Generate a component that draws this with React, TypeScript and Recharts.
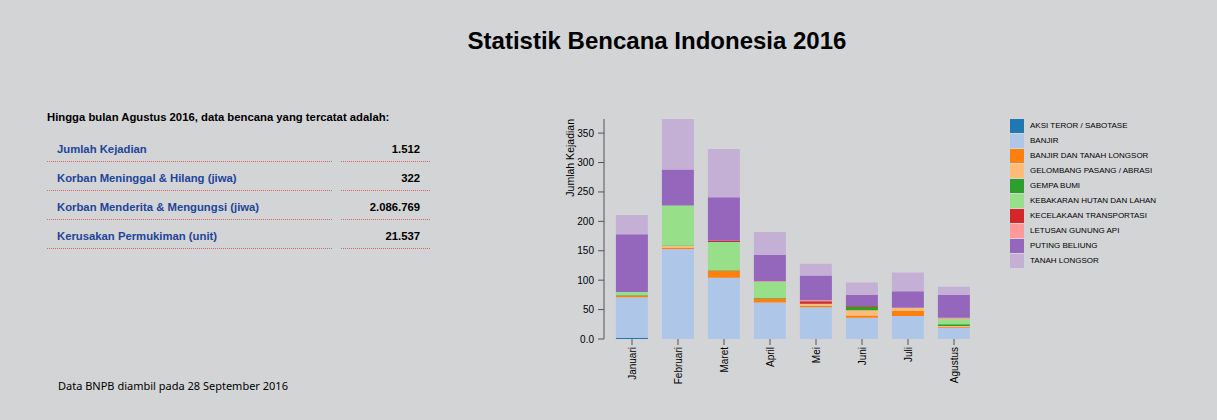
import { BarChart, Bar, XAxis, YAxis } from "recharts";

const months = ["Januari", "Februari", "Maret", "April", "Mei", "Juni", "Juli", "Agustus"];

const jenisBencana = [
  "AKSI TEROR / SABOTASE",
  "BANJIR",
  "BANJIR DAN TANAH LONGSOR",
  "GELOMBANG PASANG / ABRASI",
  "GEMPA BUMI",
  "KEBAKARAN HUTAN DAN LAHAN",
  "KECELAKAAN TRANSPORTASI",
  "LETUSAN GUNUNG API",
  "PUTING BELIUNG",
  "TANAH LONGSOR",
];

const warna = [
  "#1f77b4", "#aec7e8", "#ff7f0e", "#ffbb78", "#2ca02c",
  "#98df8a", "#d62728", "#ff9896", "#9467bd", "#c5b0d5",
];

// jumlah kejadian per bulan, urutan sama dengan jenisBencana
const aksiTeror = [2, 0, 0, 0, 0, 0, 0, 0];
const banjir = [69, 153, 104, 62, 54, 36, 39, 19];
const banjirLongsor = [2, 2, 12, 7, 2, 4, 9, 2];
const gelombang = [1, 3, 0, 0, 3, 9, 5, 1];
const gempa = [1, 1, 1, 1, 0, 6, 0, 3];
const kebakaran = [5, 68, 48, 27, 1, 0, 0, 9];
const kecelakaan = [0, 0, 2, 0, 4, 1, 0, 0];
const letusan = [0, 0, 0, 1, 2, 0, 0, 2];
const putingBeliung = [98, 61, 74, 45, 42, 19, 28, 39];
const tanahLongsor = [33, 86, 82, 39, 20, 21, 32, 14];

const yTicks = [0, 50, 100, 150, 200, 250, 300, 350];

const ringkasanLabel = [
  "Jumlah Kejadian",
  "Korban Meninggal & Hilang (jiwa)",
  "Korban Menderita & Mengungsi (jiwa)",
  "Kerusakan Permukiman (unit)",
];
const ringkasanNilai = ["1.512", "322", "2.086.769", "21.537"];

const seri = [
  aksiTeror, banjir, banjirLongsor, gelombang, gempa,
  kebakaran, kecelakaan, letusan, putingBeliung, tanahLongsor,
];

const data = months.map((bulan, i) => {
  const row: Record<string, string | number> = { bulan };
  seri.forEach((s, k) => {
    row["s" + k] = s[i];
  });
  return row;
});

const font = "Arial, 'Liberation Sans', sans-serif";

const MonthTick = (props: any) => {
  const { x, y, payload } = props;
  return (
    <g transform={`translate(${x},${y})`}>
      <text
        x={0}
        y={0}
        dy="0.35em"
        transform="rotate(-90)"
        textAnchor="end"
        fontSize={10}
        fill="#000"
        fontFamily={font}
      >
        {payload.value}
      </text>
    </g>
  );
};

export default function App() {
  return (
    <div
      style={{
        position: "absolute",
        left: 0,
        top: 0,
        width: 1217,
        height: 420,
        background: "#d3d4d6",
        fontFamily: font,
        overflow: "hidden",
      }}
    >
      <div
        style={{
          position: "absolute",
          left: 457,
          top: 29,
          width: 400,
          textAlign: "center",
          fontSize: 24,
          lineHeight: "24px",
          fontWeight: "bold",
          color: "#000",
        }}
      >
        Statistik Bencana Indonesia 2016
      </div>

      <div style={{ position: "absolute", left: 0, top: 0 }}>
        <BarChart
          width={1217}
          height={420}
          data={data}
          margin={{ top: 119, right: 240, bottom: 21, left: 564 }}
          barCategoryGap="15%"
        >
          <XAxis
            dataKey="bulan"
            axisLine={false}
            tickLine={{ stroke: "#555" }}
            tickSize={6}
            tick={<MonthTick />}
            interval={0}
            height={60}
            padding={{ left: 5, right: 0 }}
          />
          <YAxis
            width={40}
            domain={[0, "dataMax"]}
            ticks={yTicks}
            tickFormatter={(v: number) => (v === 0 ? "0.0" : String(v))}
            axisLine={{ stroke: "#555" }}
            tickLine={{ stroke: "#555" }}
            tickSize={6}
            tickMargin={4}
            tick={{ fontSize: 10, fill: "#000", fontFamily: font }}
            label={{
              content: () => (
                <text
                  x={570}
                  y={119}
                  transform="rotate(-90, 570, 119)"
                  textAnchor="end"
                  dy="0.35em"
                  fontSize={10.5}
                  fill="#000"
                  fontFamily={font}
                >
                  Jumlah Kejadian
                </text>
              ),
            }}
          />
          {jenisBencana.map((nama, k) => (
            <Bar
              key={nama}
              dataKey={"s" + k}
              name={nama}
              stackId="a"
              fill={warna[k]}
              isAnimationActive={false}
            />
          ))}
        </BarChart>
      </div>

      <div style={{ position: "absolute", left: 1010, top: 119 }}>
        {jenisBencana.map((nama, i) => (
          <div key={nama} style={{ display: "flex", alignItems: "flex-start", height: 15 }}>
            <div style={{ width: 14, height: 14, background: warna[i] }} />
            <span style={{ fontSize: 8, marginLeft: 6, color: "#000", lineHeight: "14px" }}>{nama}</span>
          </div>
        ))}
      </div>

      <div
        style={{
          position: "absolute",
          left: 47,
          top: 110,
          fontSize: 11.3,
          fontWeight: "bold",
          color: "#000",
          lineHeight: "14px",
        }}
      >
        Hingga bulan Agustus 2016, data bencana yang tercatat adalah:
      </div>

      {ringkasanLabel.map((label, i) => (
        <div key={label} style={{ position: "absolute", left: 0, top: 134 + i * 29, height: 29 }}>
          <div
            style={{
              position: "absolute",
              left: 47,
              top: 0,
              width: 285,
              height: 28,
              borderBottom: "1px dotted #d86464",
              fontSize: 11.3,
              fontWeight: "bold",
              color: "#22449a",
              lineHeight: "30px",
              paddingLeft: 10,
              boxSizing: "border-box",
              whiteSpace: "nowrap",
            }}
          >
            {label}
          </div>
          <div
            style={{
              position: "absolute",
              left: 341,
              top: 0,
              width: 89,
              height: 28,
              borderBottom: "1px dotted #d86464",
              fontSize: 11.3,
              fontWeight: "bold",
              color: "#000",
              lineHeight: "30px",
              textAlign: "right",
              paddingRight: 10,
              boxSizing: "border-box",
            }}
          >
            {ringkasanNilai[i]}
          </div>
        </div>
      ))}

      <div
        style={{
          position: "absolute",
          left: 58,
          top: 378,
          fontSize: 11,
          fontFamily: "'Noto Sans', 'Open Sans', sans-serif",
          color: "#000",
          lineHeight: "15px",
        }}
      >
        Data BNPB diambil pada 28 September 2016
      </div>
    </div>
  );
}
